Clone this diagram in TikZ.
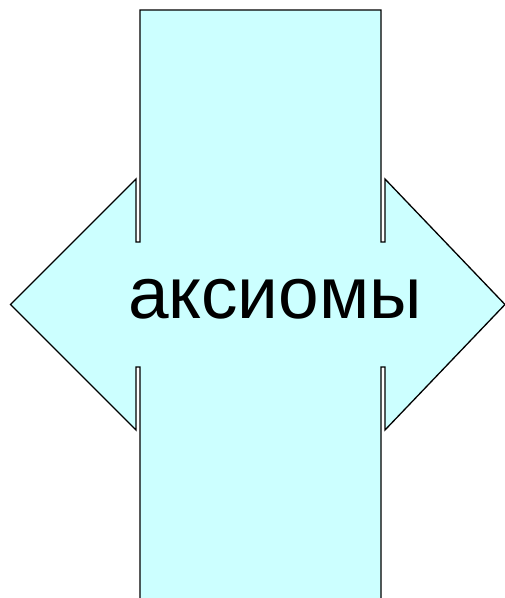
\documentclass[tikz,border=0pt]{standalone}
\usepackage{fontspec}
\setmainfont{Liberation Sans}
\definecolor{axfill}{RGB}{204,255,255}

\begin{document}
\begin{tikzpicture}[x=1pt,y=-1pt]
  \useasboundingbox (0,0) rectangle (505,598);
  \clip (0,0) rectangle (505,598);
  % cross of the bar and the two heads
  \draw[fill=axfill,line width=1.3pt,line join=miter]
    (140,10) -- (381,10) -- (381,242) -- (385,242) -- (385,179)
    -- (505,304.5) -- (385,430) -- (385,367) -- (381,367) -- (381,610)
    -- (140,610) -- (140,367) -- (136,367) -- (136,430)
    -- (10.5,304.5) -- (136,179) -- (136,242) -- (140,242) -- cycle;
  \node[anchor=base,inner sep=0pt,font=\fontsize{73}{75}\selectfont] (ax) at (275,318) {аксиомы};
\end{tikzpicture}
\end{document}
